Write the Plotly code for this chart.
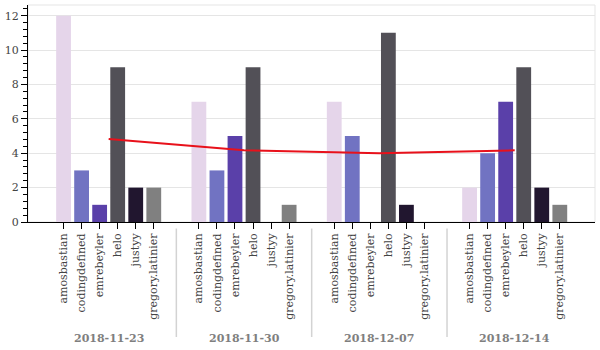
import plotly.graph_objects as go

weeks = ["2018-11-23", "2018-11-30", "2018-12-07", "2018-12-14"]
people = ["amosbastian", "codingdefined", "emrebeyler", "helo", "justyy", "gregory.latinier"]
amosbastian = [12, 7, 7, 2]
codingdefined = [3, 3, 5, 4]
emrebeyler = [1, 5, 0, 7]
helo = [9, 9, 11, 9]
justyy = [2, 0, 1, 2]
gregory_latinier = [2, 1, 0, 1]
series = [amosbastian, codingdefined, emrebeyler, helo, justyy, gregory_latinier]
colors = ["#e5d5ea", "#7173c2", "#5a40a9", "#525057", "#21162f", "#808080"]

n = len(people)
group_span = n + 1.5  # factor padding between groups


def xpos(g, i):
    return g * group_span + i


fig = go.Figure()
for i, (name, vals) in enumerate(zip(people, series)):
    fig.add_trace(go.Bar(
        x=[xpos(g, i) for g in range(len(weeks))],
        y=vals,
        width=0.82,
        marker=dict(color=colors[i], line=dict(width=0)),
        name=name,
        showlegend=False,
    ))

centers = [xpos(g, (n - 1) / 2) for g in range(len(weeks))]
averages = [sum(s[g] for s in series) / n for g in range(len(weeks))]
fig.add_trace(go.Scatter(x=centers, y=averages, mode="lines",
                         line=dict(color="#e8111b", width=2), showlegend=False))

tickvals = [xpos(g, i) for g in range(len(weeks)) for i in range(n)]
ticktext = [p for g in range(len(weeks)) for p in people]

shapes = [dict(type="rect", xref="paper", yref="paper", x0=0, x1=1, y0=0, y1=1,
               line=dict(color="#e5e5e5", width=1), layer="below")]
for g in range(len(weeks) - 1):
    xs = xpos(g, n - 1) + (group_span - n + 1) / 2
    shapes.append(dict(type="line", xref="x", yref="paper", x0=xs, x1=xs,
                       y0=-0.03, y1=-0.53, line=dict(color="#d3d3d3", width=1.5)))

annotations = [dict(x=c, y=-0.535, xref="x", yref="paper", text="<b>%s</b>" % w,
                    showarrow=False, font=dict(family="DejaVu Serif", size=11, color="#7f7f7f"),
                    xanchor="center", yanchor="middle") for c, w in zip(centers, weeks)]

fig.update_layout(
    width=600, height=350,
    margin=dict(l=26, r=5, t=5, b=128),
    plot_bgcolor="white", paper_bgcolor="white",
    barmode="overlay",
    font=dict(family="DejaVu Serif", size=11, color="#444444"),
    shapes=shapes, annotations=annotations,
    xaxis=dict(range=[-1.97, 29.45], tickvals=tickvals, ticktext=ticktext, tickangle=-90,
               showgrid=False, zeroline=False, showline=True, linecolor="black", linewidth=1,
               ticks="outside", ticklen=6, tickcolor="black"),
    yaxis=dict(range=[0, 12.62], dtick=2, showgrid=True, gridcolor="#e5e5e5", zeroline=False,
               showline=True, linecolor="black", linewidth=1, ticks="outside", ticklen=6,
               tickcolor="black",
               minor=dict(ticks="outside", dtick=0.4, ticklen=4, tickcolor="black", showgrid=False)),
)

fig.write_html("out.html")
